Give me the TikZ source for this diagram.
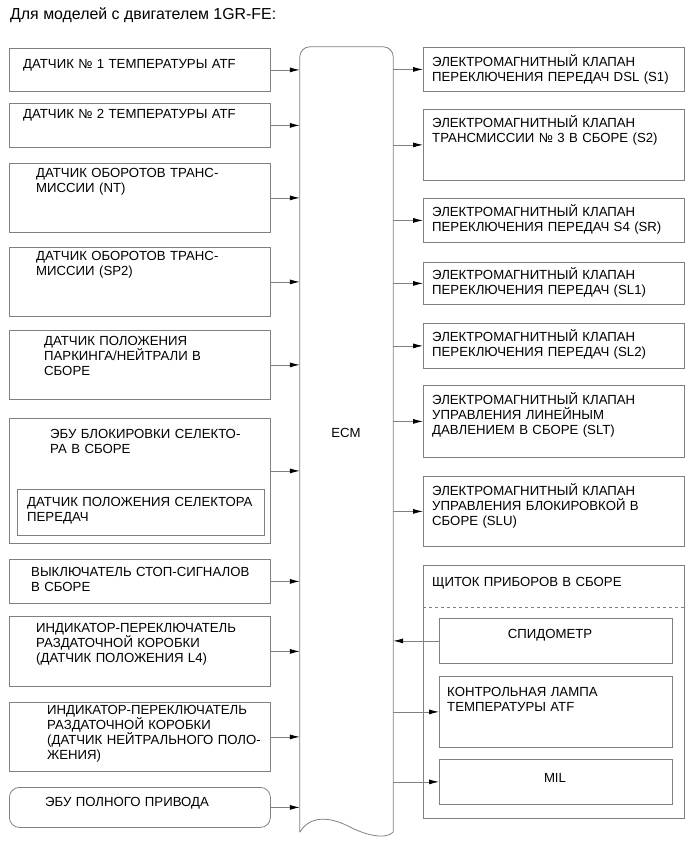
\documentclass[tikz,border=0pt]{standalone}
\usepackage{fontspec}
\setmainfont{Liberation Sans}
\usetikzlibrary{arrows.meta,calc}

\begin{document}
\begin{tikzpicture}[
  x=1pt, y=-1pt,
  box/.style={draw=gray, line width=0.8pt, anchor=north west, inner sep=0pt},
  txt/.style={anchor=base west, inner sep=0pt, align=left, text width=255pt,
              font=\fontsize{13.2}{15}\selectfont},
  ctxt/.style={anchor=base, inner sep=0pt, font=\fontsize{13.2}{15}\selectfont},
  arr/.style={draw=gray, line width=0.8pt, -{Latex[length=10pt,width=5pt,color=black]}},
  outline/.style={draw=gray, line width=0.8pt}
]
\useasboundingbox (0,0) rectangle (691,855);

\node[anchor=base west, inner sep=0pt, font=\fontsize{15.9}{17}\selectfont] (title) at (10,19)
  {Для моделей с двигателем 1GR-FE:};

%% ===== ECM =====
\node[minimum width=93pt, minimum height=785pt, inner sep=0pt] (ecm) at (346.5,439.5) {};
\draw[outline, rounded corners=10pt] (ecm.south west) -- (ecm.north west)
  -- (ecm.north east) -- (ecm.south east);
\draw[outline] (ecm.south west) .. controls (310,815) and (330,817) .. (348,826)
  .. controls (365,835) and (385,840) .. (ecm.south east);
\node[ctxt] (ecmlbl) at (346,437) {ECM};

%% ===== LEFT: inputs =====
\node[box, minimum width=261pt, minimum height=43pt] (l1) at (9,48) {};
\node[txt] (l1t) at (23,68) {ДАТЧИК № 1 ТЕМПЕРАТУРЫ ATF};
\node[box, minimum width=261pt, minimum height=44pt] (l2) at (9,103) {};
\node[txt] (l2t) at (23,118) {ДАТЧИК № 2 ТЕМПЕРАТУРЫ ATF};
\node[box, minimum width=261pt, minimum height=69pt] (l3) at (9,163) {};
\node[txt] (l3t) at (36,177) {ДАТЧИК ОБОРОТОВ ТРАНС-\\МИССИИ (NT)};
\node[box, minimum width=261pt, minimum height=69pt] (l4) at (9,247) {};
\node[txt] (l4t) at (36,260) {ДАТЧИК ОБОРОТОВ ТРАНС-\\МИССИИ (SP2)};
\node[box, minimum width=261pt, minimum height=69pt] (l5) at (9,330) {};
\node[txt] (l5t) at (44,345) {ДАТЧИК ПОЛОЖЕНИЯ\\ПАРКИНГА/НЕЙТРАЛИ В\\СБОРЕ};
\node[box, minimum width=261pt, minimum height=125pt] (l6) at (9,418) {};
\node[txt] (l6t) at (50,438) {ЭБУ БЛОКИРОВКИ СЕЛЕКТО-\\РА В СБОРЕ};
\node[box, minimum width=247pt, minimum height=46pt] (l6in) at (17,489) {};
\node[txt] (l6int) at (27,506) {ДАТЧИК ПОЛОЖЕНИЯ СЕЛЕКТОРА\\ПЕРЕДАЧ};
\node[box, minimum width=261pt, minimum height=44pt] (l7) at (9,559) {};
\node[txt] (l7t) at (31,576) {ВЫКЛЮЧАТЕЛЬ СТОП-СИГНАЛОВ\\В СБОРЕ};
\node[box, minimum width=261pt, minimum height=70pt] (l8) at (9,616) {};
\node[txt] (l8t) at (36,632) {ИНДИКАТОР-ПЕРЕКЛЮЧАТЕЛЬ\\РАЗДАТОЧНОЙ КОРОБКИ\\(ДАТЧИК ПОЛОЖЕНИЯ L4)};
\node[box, minimum width=261pt, minimum height=69pt] (l9) at (9,702) {};
\node[txt] (l9t) at (47,714) {ИНДИКАТОР-ПЕРЕКЛЮЧАТЕЛЬ\\РАЗДАТОЧНОЙ КОРОБКИ\\(ДАТЧИК НЕЙТРАЛЬНОГО ПОЛО-\\ЖЕНИЯ)};
\node[box, rounded corners=10pt, minimum width=261pt, minimum height=40pt] (l10) at (9,787) {};
\node[txt] (l10t) at (45,806) {ЭБУ ПОЛНОГО ПРИВОДА};

\foreach \n in {l1,l2,l3,l4,l5,l7,l8,l9,l10}
  \draw[arr] (\n.east) -- (\n.east -| ecm.west);
\draw[arr] ([yshift=10pt]l6.east) -- ([yshift=10pt]l6.east -| ecm.west);

%% ===== RIGHT: outputs =====
\node[box, minimum width=261pt, minimum height=44pt] (r1) at (423,47) {};
\node[txt] (r1t) at (432,66) {ЭЛЕКТРОМАГНИТНЫЙ КЛАПАН\\ПЕРЕКЛЮЧЕНИЯ ПЕРЕДАЧ DSL (S1)};
\node[box, minimum width=261pt, minimum height=71pt] (r2) at (423,109) {};
\node[txt] (r2t) at (432,127) {ЭЛЕКТРОМАГНИТНЫЙ КЛАПАН\\ТРАНСМИССИИ № 3 В СБОРЕ (S2)};
\node[box, minimum width=261pt, minimum height=44pt] (r3) at (423,198) {};
\node[txt] (r3t) at (432,216) {ЭЛЕКТРОМАГНИТНЫЙ КЛАПАН\\ПЕРЕКЛЮЧЕНИЯ ПЕРЕДАЧ S4 (SR)};
\node[box, minimum width=261pt, minimum height=42pt] (r4) at (423,262) {};
\node[txt] (r4t) at (432,279) {ЭЛЕКТРОМАГНИТНЫЙ КЛАПАН\\ПЕРЕКЛЮЧЕНИЯ ПЕРЕДАЧ (SL1)};
\node[box, minimum width=261pt, minimum height=45pt] (r5) at (423,323) {};
\node[txt] (r5t) at (432,341) {ЭЛЕКТРОМАГНИТНЫЙ КЛАПАН\\ПЕРЕКЛЮЧЕНИЯ ПЕРЕДАЧ (SL2)};
\node[box, minimum width=261pt, minimum height=72pt] (r6) at (423,385) {};
\node[txt] (r6t) at (432,404) {ЭЛЕКТРОМАГНИТНЫЙ КЛАПАН\\УПРАВЛЕНИЯ ЛИНЕЙНЫМ\\ДАВЛЕНИЕМ В СБОРЕ (SLT)};
\node[box, minimum width=261pt, minimum height=70pt] (r7) at (423,476) {};
\node[txt] (r7t) at (432,495) {ЭЛЕКТРОМАГНИТНЫЙ КЛАПАН\\УПРАВЛЕНИЯ БЛОКИРОВКОЙ В\\СБОРЕ (SLU)};

% combination meter
\node[box, minimum width=261pt, minimum height=253pt] (panel) at (423,565) {};
\node[txt] (panelt) at (432,586) {ЩИТОК ПРИБОРОВ В СБОРЕ};
\draw[draw=gray, line width=0.8pt, dash pattern=on 3pt off 3pt]
  ([yshift=-42pt]panel.north west) -- ([yshift=-42pt]panel.north east);
\node[box, minimum width=233pt, minimum height=45pt] (spd) at (439,618) {};
\node[ctxt] (spdt) at (550,638) {СПИДОМЕТР};
\node[box, minimum width=233pt, minimum height=71pt] (atf) at (439,676) {};
\node[txt] (atft) at (447,696) {КОНТРОЛЬНАЯ ЛАМПА\\ТЕМПЕРАТУРЫ ATF};
\node[box, minimum width=233pt, minimum height=45pt] (mil) at (439,759) {};
\node[ctxt] (milt) at (555,782) {MIL};

\foreach \n in {r1,r2,r3,r4,r5,r6,r7,atf,mil}
  \draw[arr] (\n.west -| ecm.east) -- (\n.west);
\draw[arr] (spd.west) -- (spd.west -| ecm.east);

\end{tikzpicture}
\end{document}
